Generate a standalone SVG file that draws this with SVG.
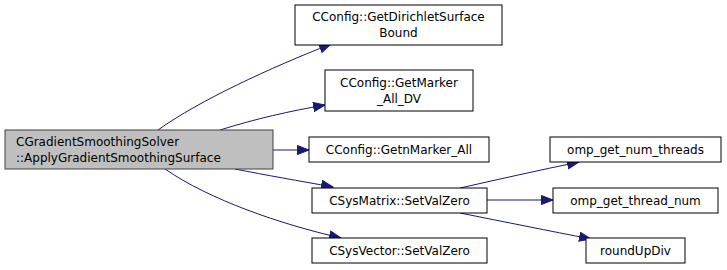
<svg xmlns="http://www.w3.org/2000/svg" width="727" height="270" viewBox="0 0 727 270">
  <style>
    .node rect { fill: #ffffff; stroke: #000000; stroke-width: 1; }
    .node.main rect { fill: #bfbfbf; stroke: #404040; }
    .node text { font-family: "DejaVu Sans", "Liberation Sans", sans-serif; font-size: 12px; fill: #000000; }
    .edge { fill: none; stroke: #191970; stroke-width: 1; marker-end: url(#arrow); }
  </style>
  <defs>
    <marker id="arrow" markerWidth="13" markerHeight="11" refX="12" refY="5" orient="auto" markerUnits="userSpaceOnUse">
      <polygon points="0.5,0.5 12,5 0.5,9.5" fill="#191970" stroke="#191970" stroke-width="1"/>
    </marker>
  </defs>
  <rect width="727" height="270" fill="#ffffff"/>

  <g id="connectors">
    <path class="edge" d="M158,130 C200,100 270,68 331,44"/>
    <path class="edge" d="M220,130 C255,119 290,111 325,105"/>
    <path class="edge" d="M273,150 L309,150"/>
    <path class="edge" d="M235,169 C265,175 300,181 333,187"/>
    <path class="edge" d="M165,169 C210,200 280,224 341,238"/>
    <path class="edge" d="M460,188 C500,179 540,170 579,162"/>
    <path class="edge" d="M487,200 L553,200"/>
    <path class="edge" d="M460,213 C505,222 550,231 591,239"/>
  </g>

  <g id="node-main" class="node main">
    <rect x="5" y="130" width="268" height="39"/>
    <text x="16" y="146">CGradientSmoothingSolver</text>
    <text x="16" y="162">::ApplyGradientSmoothingSurface</text>
  </g>
  <g id="node-dirichlet" class="node">
    <rect x="295" y="5" width="207" height="40"/>
    <text x="398.5" y="21" text-anchor="middle">CConfig::GetDirichletSurface</text>
    <text x="398.5" y="37" text-anchor="middle">Bound</text>
  </g>
  <g id="node-marker-all-dv" class="node">
    <rect x="325" y="70" width="148" height="41"/>
    <text x="399" y="87" text-anchor="middle">CConfig::GetMarker</text>
    <text x="399" y="103" text-anchor="middle">_All_DV</text>
  </g>
  <g id="node-nmarker-all" class="node">
    <rect x="309" y="137" width="180" height="25"/>
    <text x="399" y="154" text-anchor="middle">CConfig::GetnMarker_All</text>
  </g>
  <g id="node-sysmatrix" class="node">
    <rect x="312" y="188" width="175" height="25"/>
    <text x="399.5" y="205" text-anchor="middle">CSysMatrix::SetValZero</text>
  </g>
  <g id="node-sysvector" class="node">
    <rect x="312" y="238" width="175" height="25"/>
    <text x="399.5" y="255" text-anchor="middle">CSysVector::SetValZero</text>
  </g>
  <g id="node-omp-num-threads" class="node">
    <rect x="550" y="137" width="171" height="25"/>
    <text x="635.5" y="154" text-anchor="middle">omp_get_num_threads</text>
  </g>
  <g id="node-omp-thread-num" class="node">
    <rect x="553" y="188" width="165" height="25"/>
    <text x="635.5" y="205" text-anchor="middle">omp_get_thread_num</text>
  </g>
  <g id="node-roundupdiv" class="node">
    <rect x="586" y="238" width="99" height="25"/>
    <text x="635.5" y="255" text-anchor="middle">roundUpDiv</text>
  </g>
</svg>
